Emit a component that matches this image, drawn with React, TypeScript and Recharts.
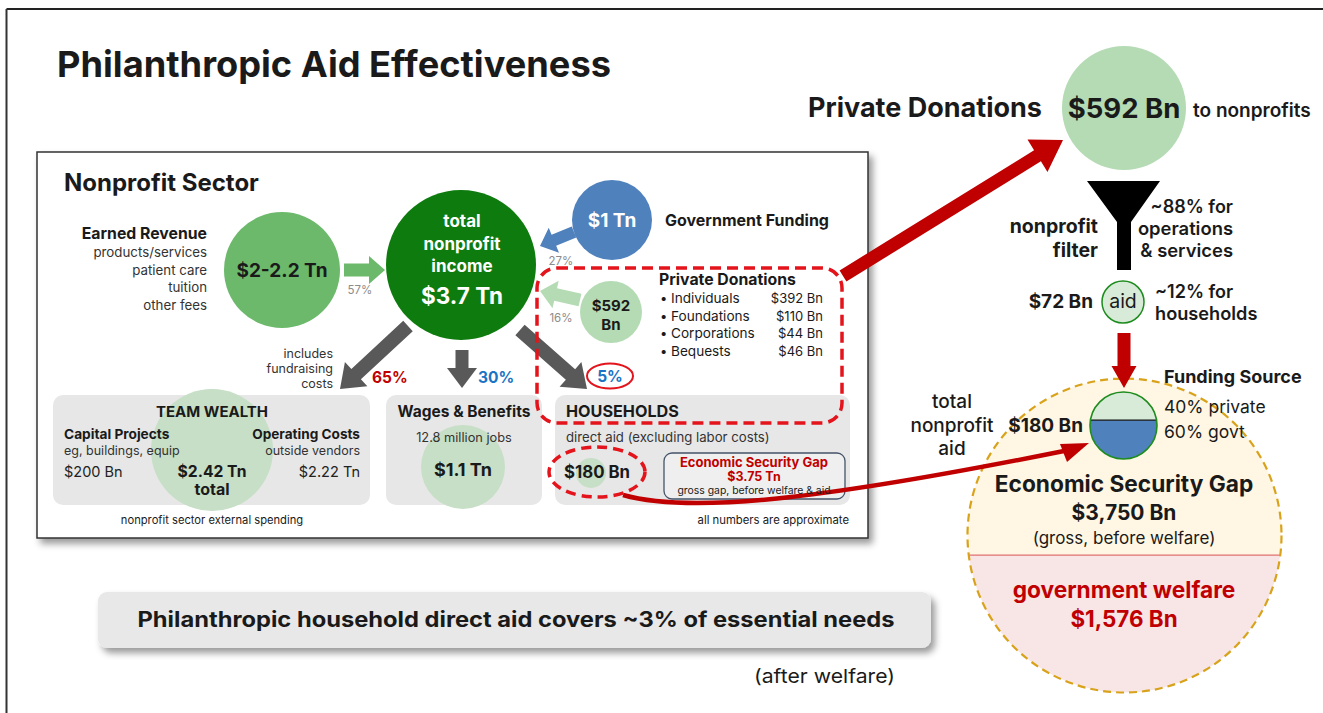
import * as React from "react";
import { ScatterChart, Scatter, XAxis, YAxis } from "recharts";

const W = 1323;
const H = 713;

// ---- values ----
const incomeKeys = ["earned", "govt", "donations"];
const incomeLabels = ["$2-2.2 Tn", "$1 Tn", "$592 Bn"];
const incomeShares = [57, 27, 16];
const totalIncomeLabel = "$3.7 Tn";

const spendingKeys = ["team", "wages", "households"];
const spendingShares = [65, 30, 5];
const spendingAmounts = ["$2.42 Tn", "$1.1 Tn", "$180 Bn"];

const donationNames = ["Individuals", "Foundations", "Corporations", "Bequests"];
const donationBn = [392, 110, 44, 46];

const filterShares = [88, 12]; // operations, households
const privateAidBn = 72;
const totalAidBn = 180;
const fundingNames = ["private", "govt"];
const fundingPct = [40, 60];
const gapBn = 3750;
const welfareBn = 1576;

// ---- layout (pixels == axis units, domain 0..W / 0..H) ----
const bubbleLayout: Record<string, { x: number; y: number; r: number; fill: string }> = {
    earned: { x: 282, y: 270, r: 58, fill: "#6cb96c" },
    total: { x: 461, y: 265, r: 75, fill: "#0e7b0e" },
    govt: { x: 612, y: 220, r: 40, fill: "#4f81bd" },
    donations: { x: 611, y: 312, r: 31, fill: "#b4dbb4" },
    team: { x: 212, y: 450, r: 61, fill: "#c6dfc6" },
    wages: { x: 463, y: 467, r: 42, fill: "#c6dfc6" },
    households: { x: 591, y: 473, r: 15, fill: "#c6dfc6" },
    donationsBig: { x: 1124, y: 108, r: 62, fill: "#b4dbb4" },
};

const bubbles = [...incomeKeys, "total", ...spendingKeys, "donationsBig"].map((k) => ({
    key: k,
    ...bubbleLayout[k],
}));

const aidDot = [{ x: 1123, y: 302, r: 21, value: privateAidBn }];
const fundingPie = [{ x: 1123.5, y: 425.5, r: 33.5, top: fundingPct[0] }];
const gapCircle = [{ x: 1124.5, y: 535.5, r: 157, lowerFrac: welfareBn / gapBn }];

// ---- helpers ----
const FONT = "Inter, 'Noto Sans', sans-serif";
const fmtBn = (v: number) => `$${v.toLocaleString("en-US")} Bn`;

function arrowPts(x1: number, y1: number, x2: number, y2: number, sw: number, hw: number, hl: number) {
    const L = Math.hypot(x2 - x1, y2 - y1);
    const ux = (x2 - x1) / L;
    const uy = (y2 - y1) / L;
    const px = -uy;
    const py = ux;
    const bx = x2 - ux * hl;
    const by = y2 - uy * hl;
    const p = (x: number, y: number, s: number) => `${x + px * s},${y + py * s}`;
    return [
        p(x1, y1, sw / 2),
        p(bx, by, sw / 2),
        p(bx, by, hw / 2),
        `${x2},${y2}`,
        p(bx, by, -hw / 2),
        p(bx, by, -sw / 2),
        p(x1, y1, -sw / 2),
    ].join(" ");
}

// arrows: x,y is the tip, fx,fy the tail
const arrows = [
    { fx: 344, fy: 270, x: 385, y: 270, sw: 13, hw: 28, hl: 16, fill: "#6cb96c" },
    { fx: 574, fy: 232, x: 540, y: 246, sw: 12, hw: 27, hl: 15, fill: "#4f81bd" },
    { fx: 580, fy: 300, x: 540, y: 291, sw: 13, hw: 28, hl: 16, fill: "#b4dbb4" },
    { fx: 408, fy: 326, x: 340, y: 389, sw: 14, hw: 33, hl: 22, fill: "#595959" },
    { fx: 462, fy: 350, x: 462, y: 388, sw: 13, hw: 30, hl: 20, fill: "#595959" },
    { fx: 520, fy: 330, x: 587, y: 389, sw: 14, hw: 33, hl: 22, fill: "#595959" },
    { fx: 843, fy: 276, x: 1063, y: 140, sw: 13, hw: 38, hl: 30, fill: "#c00000" },
    { fx: 1124, fy: 333, x: 1124, y: 388, sw: 13, hw: 25, hl: 22, fill: "#c00000" },
];

// solve chord offset t (in radii, +down) so that the part below the chord holds `frac` of the area
function chordT(frac: number) {
    let lo = -1;
    let hi = 1;
    for (let i = 0; i < 60; i++) {
        const t = (lo + hi) / 2;
        const below = (Math.acos(t) - t * Math.sqrt(1 - t * t)) / Math.PI;
        if (below > frac) lo = t;
        else hi = t;
    }
    return (lo + hi) / 2;
}

function segments(cx: number, cy: number, r: number, lowerFrac: number) {
    const t = chordT(lowerFrac);
    const yc = cy + t * r;
    const hw = r * Math.sqrt(1 - t * t);
    const upper = `M${cx - hw},${yc} A${r},${r} 0 ${t > 0 ? 1 : 0} 1 ${cx + hw},${yc} Z`;
    const lower = `M${cx + hw},${yc} A${r},${r} 0 ${t < 0 ? 1 : 0} 1 ${cx - hw},${yc} Z`;
    return { upper, lower, yc, hw };
}

type Lbl = { x: number; y: number; text: string; size: number; weight?: number; fill?: string; anchor?: string; len?: number };
const labels: Lbl[] = [];
const L = (x: number, y: number, text: string, size: number, o: Partial<Lbl> = {}) =>
    labels.push({ x, y, text, size, ...o });
const B = 700;

L(57, 77, "Philanthropic Aid Effectiveness", 36, { weight: B, len: 554 });
L(64, 191, "Nonprofit Sector", 24, { weight: B });

// earned revenue
L(207, 239, "Earned Revenue", 15.8, { weight: B, anchor: "end" });
["products/services", "patient care", "tuition", "other fees"].forEach((s, i) =>
    L(207, 257 + i * 17.7, s, 13.3, { anchor: "end", fill: "#333" })
);
L(282, 277, incomeLabels[0], 19, { weight: B, anchor: "middle" });
L(360, 294, `${incomeShares[0]}%`, 11.5, { fill: "#8c8c8c", anchor: "middle" });

// total income
L(462, 227, "total", 17, { weight: B, fill: "#fff", anchor: "middle" });
L(462, 250, "nonprofit", 17, { weight: B, fill: "#fff", anchor: "middle" });
L(462, 272, "income", 17, { weight: B, fill: "#fff", anchor: "middle" });
L(462, 304, totalIncomeLabel, 22.5, { weight: B, fill: "#fff", anchor: "middle" });

// government
L(612, 227, incomeLabels[1], 19, { weight: B, fill: "#fff", anchor: "middle" });
L(665, 226, "Government Funding", 16, { weight: B });
L(561, 265, `${incomeShares[1]}%`, 11.5, { fill: "#8c8c8c", anchor: "middle" });

// donations
L(611, 310.5, "$592", 15, { weight: B, anchor: "middle" });
L(611, 329.5, "Bn", 15, { weight: B, anchor: "middle" });
L(561, 322, `${incomeShares[2]}%`, 11.5, { fill: "#8c8c8c", anchor: "middle" });
L(659, 285, "Private Donations", 15.8, { weight: B });
donationNames.forEach((n, i) => {
    L(660, 303 + i * 17.6, "•", 13);
    L(671, 303 + i * 17.6, n, 13.6);
    L(823, 303 + i * 17.6, fmtBn(donationBn[i]), 13, { anchor: "end" });
});

// spending shares
L(333, 358, "includes", 12.5, { anchor: "end", fill: "#333" });
L(333, 373, "fundraising", 12.5, { anchor: "end", fill: "#333" });
L(333, 388, "costs", 12.5, { anchor: "end", fill: "#333" });
L(372, 383, `${spendingShares[0]}%`, 15.5, { weight: B, fill: "#c00000" });
L(478, 383, `${spendingShares[1]}%`, 15.5, { weight: B, fill: "#1a73c4" });
L(610, 382, `${spendingShares[2]}%`, 15.5, { weight: B, fill: "#1a73c4", anchor: "middle" });

// team wealth
L(212, 417, "TEAM WEALTH", 15, { weight: B, anchor: "middle" });
L(64, 439, "Capital Projects", 13.7, { weight: B });
L(64, 455, "eg, buildings, equip", 12.5, { fill: "#333" });
L(64, 477, "$200 Bn", 14.5, { fill: "#222" });
L(360, 439, "Operating Costs", 13.6, { weight: B, anchor: "end" });
L(360, 455, "outside vendors", 12.5, { fill: "#333", anchor: "end" });
L(360, 477, "$2.22 Tn", 14.5, { fill: "#222", anchor: "end" });
L(212, 477, spendingAmounts[0], 15.7, { weight: B, anchor: "middle" });
L(212, 495, "total", 16, { weight: B, anchor: "middle" });
L(212, 524, "nonprofit sector external spending", 11.2, { anchor: "middle" });

// wages
L(464, 417, "Wages & Benefits", 15.5, { weight: B, anchor: "middle" });
L(464, 442, "12.8 million jobs", 12.8, { anchor: "middle", fill: "#333" });
L(463, 476, spendingAmounts[1], 18, { weight: B, anchor: "middle" });

// households
L(566, 417, "HOUSEHOLDS", 16.2, { weight: B });
L(566, 442, "direct aid (excluding labor costs)", 13.2, { fill: "#333" });
L(564, 478, spendingAmounts[2], 16.8, { weight: B });
L(754, 467, "Economic Security Gap", 13, { weight: B, fill: "#c00000", anchor: "middle" });
L(754, 481, "$3.75 Tn", 12.5, { weight: B, fill: "#c00000", anchor: "middle" });
L(754, 494, "gross gap, before welfare & aid", 10.4, { anchor: "middle" });
L(849, 524, "all numbers are approximate", 11.3, { anchor: "end" });

// right side
L(808, 117, "Private Donations", 27, { weight: B });
L(1124, 118, fmtBn(592), 27.5, { weight: B, anchor: "middle" });
L(1193, 117, "to nonprofits", 19, { weight: 600 });
L(1098, 233, "nonprofit", 19.5, { weight: B, anchor: "end" });
L(1098, 257, "filter", 19.5, { weight: B, anchor: "end" });
L(1233, 213, `~${filterShares[0]}% for`, 18, { weight: 600, anchor: "end" });
L(1233, 235, "operations", 18.4, { weight: 600, anchor: "end" });
L(1233, 257, "& services", 18.4, { weight: 600, anchor: "end" });
L(1093, 308, fmtBn(privateAidBn), 19, { weight: B, anchor: "end" });
L(1123, 308, "aid", 19.5, { anchor: "middle" });
L(1155, 298, `~${filterShares[1]}% for`, 18, { weight: 600 });
L(1155, 320, "households", 18.2, { weight: 600 });

L(1164, 383, "Funding Source", 18, { weight: B });
L(1164, 413, `${fundingPct[0]}% ${fundingNames[0]}`, 17.5);
L(1164, 438, `${fundingPct[1]}% ${fundingNames[1]}`, 17.5);
L(1083, 432, fmtBn(totalAidBn), 19, { weight: B, anchor: "end" });
L(952, 408, "total", 19, { weight: 500, anchor: "middle" });
L(952, 432, "nonprofit", 19, { weight: 500, anchor: "middle" });
L(952, 455, "aid", 19, { weight: 500, anchor: "middle" });

L(1124, 492, "Economic Security Gap", 22.7, { weight: B, anchor: "middle" });
L(1124, 520, fmtBn(gapBn), 21, { weight: B, anchor: "middle" });
L(1124, 544, "(gross, before welfare)", 17, { anchor: "middle" });
L(1124, 598, "government welfare", 22.7, { weight: B, fill: "#c00000", anchor: "middle" });
L(1124, 627, fmtBn(welfareBn), 22.4, { weight: B, fill: "#c00000", anchor: "middle" });

L(516, 627, "Philanthropic household direct aid covers ~3% of essential needs", 21, { weight: B, anchor: "middle", len: 757 });
L(895, 683, "(after welfare)", 19, { anchor: "end", len: 141 });

// ---- shapes ----
const BubbleShape = (props: any) => {
    const { cx, cy, payload } = props;
    return <circle cx={cx} cy={cy} r={payload.r} fill={payload.fill} />;
};

const AidShape = (props: any) => (
    <circle cx={props.cx} cy={props.cy} r={props.payload.r} fill="#d8ebd8" stroke="#1e8c1e" strokeWidth={1.5} />
);

const PieShape = (props: any) => {
    const { cx, cy, payload } = props;
    const s = segments(cx, cy, payload.r, 1 - payload.top / 100);
    return (
        <g>
            <path d={s.upper} fill="#d8ebd8" />
            <path d={s.lower} fill="#4f81bd" />
            <line x1={cx - s.hw} x2={cx + s.hw} y1={s.yc} y2={s.yc} stroke="#111" strokeWidth={1.2} />
            <circle cx={cx} cy={cy} r={payload.r} fill="none" stroke="#1e8c1e" strokeWidth={1.6} />
        </g>
    );
};

const GapShape = (props: any) => {
    const { cx, cy, payload } = props;
    const s = segments(cx, cy, payload.r, payload.lowerFrac);
    return (
        <g>
            <path d={s.upper} fill="#fff7e3" />
            <path d={s.lower} fill="#f8e6e6" />
            <line x1={cx - s.hw} x2={cx + s.hw} y1={s.yc} y2={s.yc} stroke="#e07070" strokeWidth={1.2} />
            <circle cx={cx} cy={cy} r={payload.r} fill="none" stroke="#d9a21b" strokeWidth={2.2} strokeDasharray="8 5" />
        </g>
    );
};

const ArrowShape = (props: any) => {
    const { cx, cy, payload: a } = props;
    const dx = cx - a.x;
    const dy = cy - a.y;
    return <polygon points={arrowPts(a.fx + dx, a.fy + dy, cx, cy, a.sw, a.hw, a.hl)} fill={a.fill} />;
};

// curved arrow from the $180 Bn household aid to the funding pie
const curveArrow = [{ x: 1089, y: 443 }];
const CurveShape = (props: any) => {
    const { cx, cy } = props;
    return (
        <g>
            <path
                d={`M${cx - 466},${cy + 52} C${cx - 399},${cy + 71} ${cx - 269},${cy + 57} ${cx - 25},${cy + 8}`}
                fill="none"
                stroke="#c00000"
                strokeWidth={4.5}
            />
            <polygon points={`${cx},${cy} ${cx - 29},${cy + 1} ${cx - 22},${cy + 19}`} fill="#c00000" />
        </g>
    );
};

// red dashed highlight around donations / household aid
const highlights = [
    { x: 537, y: 268, kind: "rect", w: 305, h: 155 },
    { x: 597, y: 472, kind: "ellipse", w: 48, h: 25 },
    { x: 610, y: 376, kind: "ring", w: 23, h: 12.5 },
];
const HighlightShape = (props: any) => {
    const { cx, cy, payload: h } = props;
    if (h.kind === "rect")
        return <rect x={cx} y={cy} width={h.w} height={h.h} rx={20} fill="none" stroke="#e3141b" strokeWidth={3.5} strokeDasharray="11 6" />;
    if (h.kind === "ellipse")
        return <ellipse cx={cx} cy={cy} rx={h.w} ry={h.h} fill="none" stroke="#e3141b" strokeWidth={3.5} strokeDasharray="10 6" />;
    return <ellipse cx={cx} cy={cy} rx={h.w} ry={h.h} fill="#fff" stroke="#e3141b" strokeWidth={2} />;
};

const LabelShape = (props: any) => {
    const { cx, cy, payload: l } = props;
    return (
        <text
            x={cx}
            y={cy}
            fontSize={l.size}
            fontWeight={l.weight ?? 400}
            fill={l.fill ?? "#1a1a1a"}
            textAnchor={l.anchor ?? "start"}
            fontFamily={FONT}
            textLength={l.len}
            lengthAdjust={l.len ? "spacingAndGlyphs" : undefined}
        >
            {l.text}
        </text>
    );
};

export default function App() {
    return (
        <div style={{ position: "absolute", left: 0, top: 0, width: W, height: H, background: "#fff" }}>
            <ScatterChart width={W} height={H} margin={{ top: 0, right: 0, bottom: 0, left: 0 }}>
                <defs>
                    <filter id="shadow" x="-5%" y="-5%" width="115%" height="125%">
                        <feDropShadow dx="4" dy="5" stdDeviation="3.5" floodColor="#000" floodOpacity="0.4" />
                    </filter>
                </defs>
                <XAxis type="number" dataKey="x" domain={[0, W]} hide allowDataOverflow />
                <YAxis type="number" dataKey="y" domain={[0, H]} reversed hide allowDataOverflow />

                {/* slide frame */}
                <line x1={6.5} y1={9} x2={W} y2={9} stroke="#222" strokeWidth={2} />
                <line x1={6.5} y1={9} x2={6.5} y2={H} stroke="#333" strokeWidth={2} />

                {/* nonprofit panel + boxes */}
                <rect x={37} y={152} width={831} height={386} fill="#fff" stroke="#333" strokeWidth={1.5} filter="url(#shadow)" />
                <rect x={53} y={395} width={317} height={110} rx={10} fill="#e7e7e7" />
                <rect x={386} y={395} width={156} height={110} rx={10} fill="#e7e7e7" />
                <rect x={555} y={395} width={295} height={110} rx={10} fill="#e7e7e7" />
                <rect x={664} y={453} width={181} height={46} rx={8} fill="#efefef" stroke="#44546a" strokeWidth={1.3} />

                {/* banner */}
                <rect x={98} y={592} width={833} height={56} rx={9} fill="#e8e8e8" filter="url(#shadow)" />

                {/* funnel */}
                <polygon points="1087,181 1160,181 1131,222 1131,270 1117,270 1117,222" fill="#000" />

                <Scatter data={gapCircle} shape={GapShape} isAnimationActive={false} />
                <Scatter data={bubbles} shape={BubbleShape} isAnimationActive={false} />
                <Scatter data={aidDot} shape={AidShape} isAnimationActive={false} />
                <Scatter data={arrows} shape={ArrowShape} isAnimationActive={false} />
                <Scatter data={curveArrow} shape={CurveShape} isAnimationActive={false} />
                <Scatter data={fundingPie} shape={PieShape} isAnimationActive={false} />
                <Scatter data={highlights} shape={HighlightShape} isAnimationActive={false} />
                <Scatter data={labels} shape={LabelShape} isAnimationActive={false} />
            </ScatterChart>
        </div>
    );
}
